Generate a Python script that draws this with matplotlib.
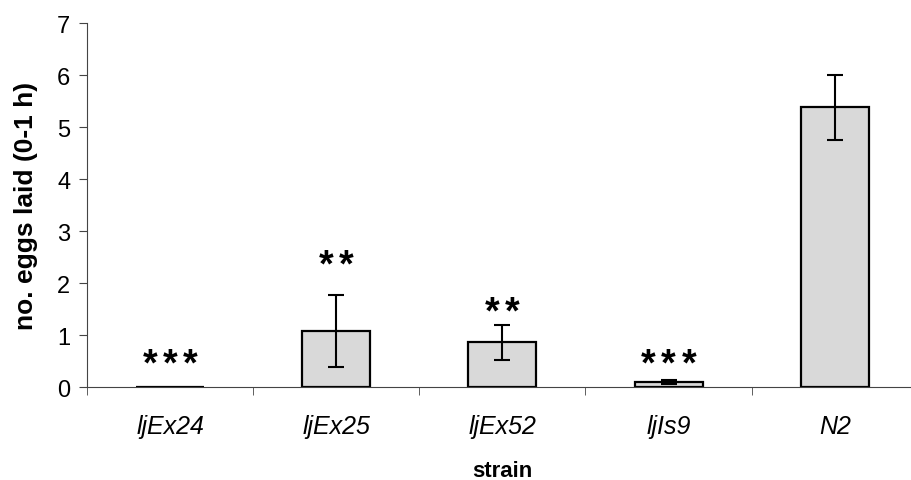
import numpy as np
import matplotlib
matplotlib.use("Agg")
import matplotlib.pyplot as plt

strains = ["ljEx24", "ljEx25", "ljEx52", "ljIs9", "N2"]
eggs = [0.0, 1.08, 0.86, 0.10, 5.38]
err = [0.0, 0.70, 0.34, 0.04, 0.62]
n_stars = [3, 2, 2, 3, 0]
star_y = [0.44, 2.34, 1.44, 0.44, 0]

plt.rcParams["font.family"] = ["Liberation Sans", "DejaVu Sans"]

fig = plt.figure(figsize=(9.11, 4.81), dpi=100)
ax = fig.add_axes([0.0955, 0.193, 0.912, 0.757])

x = np.arange(len(strains))
ax.bar(x, eggs, width=0.41, color="#d9d9d9", edgecolor="black", linewidth=1.6, zorder=2)
ax.errorbar(x[1:], eggs[1:], yerr=err[1:], fmt="none", ecolor="black",
            elinewidth=1.5, capsize=5.5, capthick=1.5, zorder=3)

# significance stars, spaced out one by one
step = 14.5
for xi, n, sy in zip(x, n_stars, star_y):
    for k in range(n):
        dx = (k - (n - 1) / 2) * step
        ax.annotate("*", (xi, sy), xytext=(dx, 0), textcoords="offset points",
                    ha="center", va="center", fontsize=27, fontweight="bold")

ax.set_xlim(-0.5, len(strains) - 0.5)
ax.set_ylim(0, 7)
ax.set_yticks(range(8))
ax.set_xticks(x)
ax.set_xticklabels(strains, style="italic", fontsize=18)
ax.set_xticks(np.arange(-0.5, len(strains), 1.0), minor=True)
ax.tick_params(axis="x", which="major", length=0, pad=19)
ax.tick_params(axis="x", which="minor", length=6, direction="out", color="#444444")
ax.tick_params(axis="y", labelsize=17, length=6, direction="out", color="#444444", pad=6)

for side in ["top", "right"]:
    ax.spines[side].set_visible(False)
ax.spines["left"].set_color("#444444")
ax.spines["bottom"].set_color("#444444")

ax.set_ylabel("no. eggs laid (0-1 h)", fontsize=19, fontweight="bold", labelpad=14)
ax.set_xlabel("strain", fontsize=16, fontweight="bold", labelpad=16)

fig.savefig("out.png", dpi=100)
